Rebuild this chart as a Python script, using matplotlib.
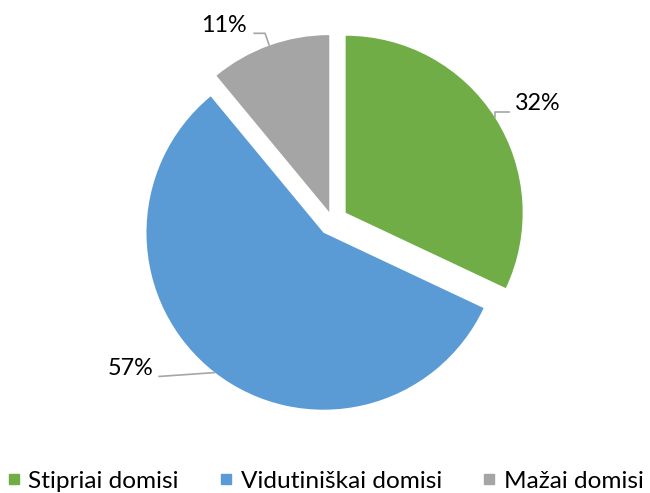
import numpy as np
import matplotlib
matplotlib.use("Agg")
import matplotlib.pyplot as plt
from matplotlib.lines import Line2D

# ---- data ----
categories = ["Stipriai domisi", "Vidutiniškai domisi", "Mažai domisi"]
values = [32, 57, 11]
labels = ["32%", "57%", "11%"]
colors = ["#70AD47", "#5B9BD5", "#A5A5A5"]

# ---- style / layout ----
explode = [0.088, 0.083, 0.054]
FONT = ["Lato", "DejaVu Sans"]
FS_LABEL = 16.8
FS_LEG = 17.6

W, H = 650, 493
fig = plt.figure(figsize=(W / 100, H / 100), dpi=100)
side = 424.8
ax = fig.add_axes([120.1 / W, 59.5 / H, side / W, side / H])

wedges, _ = ax.pie(values, colors=colors, startangle=90, counterclock=False,
                   explode=explode, radius=1.0,
                   wedgeprops=dict(linewidth=0, antialiased=True))
ax.set_xlim(-1.2, 1.2)
ax.set_ylim(-1.2, 1.2)
ax.set_aspect("equal")
ax.axis("off")

# label layout: (text x, text y, ha, leader points after arc point)
label_layout = [
    dict(xy=(1.031, 0.662), ha="left", path=[(0.928, 0.615), (1.0, 0.615)], vertical_first=True),
    dict(xy=(-1.012, -0.830), ha="right", path=[(-0.984, -0.878)], vertical_first=False),
    dict(xy=(-0.483, 1.104), ha="right", path=[(-0.381, 1.061), (-0.447, 1.061)], vertical_first=False),
]

for w, lab, lay in zip(wedges, labels, label_layout):
    mid = np.deg2rad((w.theta1 + w.theta2) / 2)
    cx, cy = w.center
    sx, sy = cx + w.r * np.cos(mid), cy + w.r * np.sin(mid)
    pts = [(sx, sy)]
    if lay["vertical_first"]:
        pts.append((sx, lay["path"][0][1]))
        pts.append(lay["path"][1])
    else:
        pts.extend(lay["path"])
    xs, ys = zip(*pts)
    ax.plot(xs, ys, color="#A6A6A6", lw=1.2, clip_on=False, solid_capstyle="butt")
    ax.text(lay["xy"][0], lay["xy"][1], lab, ha=lay["ha"], va="center",
            fontsize=FS_LABEL, family=FONT, color="#000000", clip_on=False)

handles = [Line2D([0], [0], marker="s", linestyle="none", markersize=7,
                  markerfacecolor=c, markeredgecolor=c) for c in colors]
fig.legend(handles, categories, loc="center", bbox_to_anchor=(325 / W, 1 - 481 / H),
           ncol=3, frameon=False, prop=dict(family=FONT, size=FS_LEG),
           handlelength=0.6, handletextpad=0.29, columnspacing=1.64,
           borderaxespad=0, borderpad=0)

fig.savefig("out.png", dpi=100, facecolor="white")
